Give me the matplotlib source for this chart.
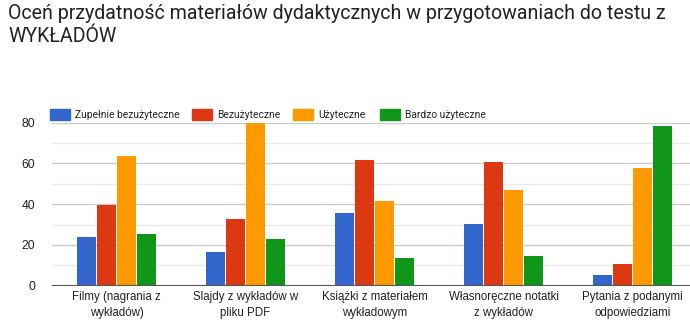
import numpy as np
import matplotlib.pyplot as plt
from matplotlib.patches import Rectangle

# dane z ankiety (procent odpowiedzi)
kategorie = ["Filmy (nagrania z\nwykładów)", "Slajdy z wykładów w\npliku PDF",
             "Książki z materiałem\nwykładowym", "Własnoręczne notatki\nz wykładów",
             "Pytania z podanymi\nodpowiedziami"]
serie = ["Zupełnie bezużyteczne", "Bezużyteczne", "Użyteczne", "Bardzo użyteczne"]
zupelnie = [23.7, 16.4, 35.6, 30.4, 5.4]
bezuzyteczne = [39.6, 32.8, 61.6, 60.6, 10.6]
uzyteczne = [63.6, 83.0, 41.5, 46.8, 57.7]
bardzo = [25.5, 22.7, 13.6, 14.6, 78.4]
kolory = ["#3366cc", "#dc3912", "#ff9900", "#109618"]

W, H = 690, 324
fig = plt.figure(figsize=(W / 100, H / 100), dpi=100)
plt.rcParams['font.family'] = ['Liberation Sans', 'DejaVu Sans']

# obszar wykresu (w pikselach), prawa krawedz wychodzi poza obraz
x0, x1 = 52, 697
y0, y1 = 285.7, 122.7
ax = fig.add_axes([x0 / W, 1 - y0 / H, (x1 - x0) / W, (y0 - y1) / H])

x = np.arange(len(kategorie))
krok = 0.155
szer = 0.147
for i, (vals, kol) in enumerate(zip([zupelnie, bezuzyteczne, uzyteczne, bardzo], kolory)):
    ax.bar(x + (i - 1.5) * krok, vals, width=szer, color=kol, zorder=3)

ax.set_xlim(-0.5, len(kategorie) - 0.5)
ax.set_ylim(0, 80)
ax.set_yticks([0, 20, 40, 60, 80])
ax.set_yticks([10, 30, 50, 70], minor=True)
ax.grid(axis='y', which='major', color='#cccccc', lw=1, zorder=0)
ax.grid(axis='y', which='minor', color='#ebebeb', lw=1, zorder=0)
ax.axhline(0, color='#555555', lw=1.5, zorder=4)
for s in ax.spines.values():
    s.set_visible(False)
ax.tick_params(axis='y', which='both', length=0, pad=12, labelsize=8.7, labelcolor='#222222')
ax.tick_params(axis='x', length=0, pad=4, labelsize=8.3, labelcolor='#222222')
ax.set_xticks(x)
ax.set_xticklabels(kategorie, linespacing=1.45)

# tytul
fig.text(8 / W, 1 - 4 / H, "Oceń przydatność materiałów dydaktycznych w przygotowaniach do testu z\nWYKŁADÓW",
         ha='left', va='top', fontsize=14.1, family=['Roboto', 'DejaVu Sans'],
         color='#222222', linespacing=1.3)

# legenda nad wykresem
pozycje = [50, 192, 293, 380]
for px, nazwa, kol in zip(pozycje, serie, kolory):
    fig.patches.append(Rectangle((px / W, 1 - 120 / H), 20 / W, 11 / H,
                                 transform=fig.transFigure, color=kol))
    fig.text((px + 25) / W, 1 - 115 / H, nazwa, ha='left', va='center',
             fontsize=7.4, color='#222222', family=['Roboto', 'DejaVu Sans'])

fig.savefig("out.png", dpi=100)
